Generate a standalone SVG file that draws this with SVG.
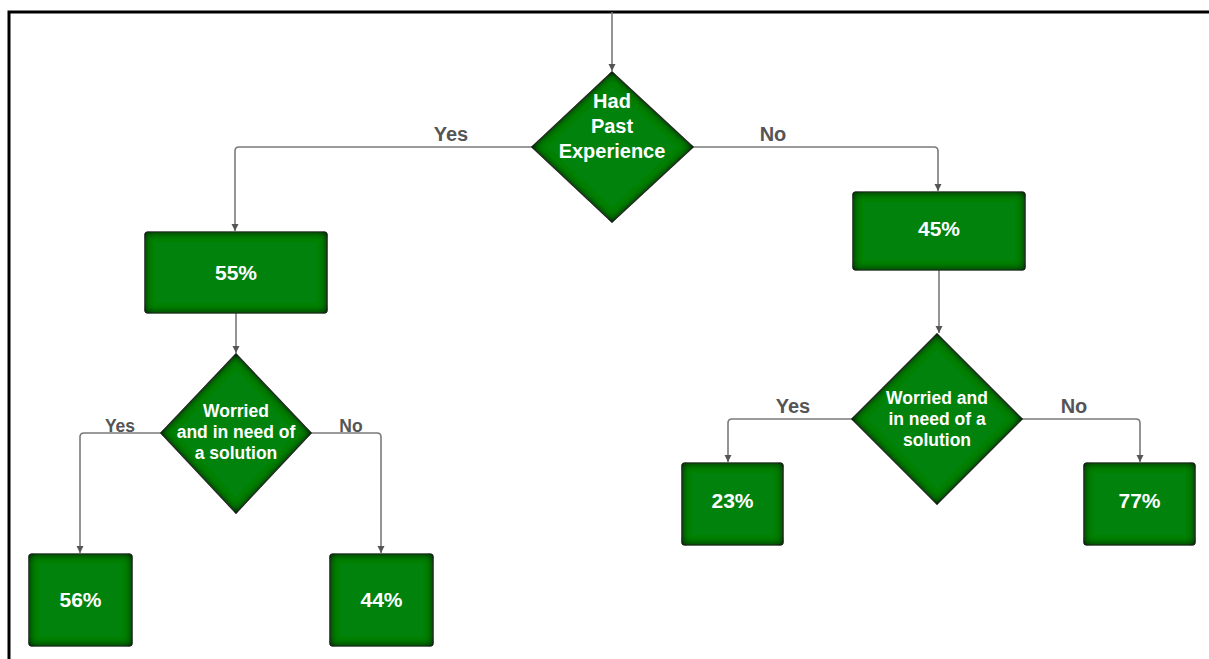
<svg xmlns="http://www.w3.org/2000/svg" width="1209" height="659" viewBox="0 0 1209 659">
<style>
.node{fill:#05820d;stroke:#4a4a4a;stroke-width:1.2;filter:url(#inner)}
.nt{fill:#ffffff;font-family:"Liberation Sans",Arial,sans-serif;font-weight:bold;text-anchor:middle}
.lbl{fill:#555555;font-family:"Liberation Sans",Arial,sans-serif;font-weight:bold;text-anchor:middle}
.edge{fill:none;stroke:#7a7a7a;stroke-width:1.6;marker-end:url(#arr)}
</style>
<defs>
<marker id="arr" markerUnits="userSpaceOnUse" markerWidth="8" markerHeight="8" refX="7" refY="3.5" orient="auto">
<path d="M0,0 L7,3.5 L0,7 z" fill="#555555"/>
</marker>
<filter id="inner" x="-50%" y="-50%" width="200%" height="200%">
<feFlood flood-color="#001a00" flood-opacity="1" result="f"/>
<feComposite in="f" in2="SourceAlpha" operator="out" result="o"/>
<feGaussianBlur in="o" stdDeviation="4" result="b"/>
<feComposite in="b" in2="SourceAlpha" operator="in" result="s"/>
<feMerge><feMergeNode in="SourceGraphic"/><feMergeNode in="s"/><feMergeNode in="s"/></feMerge>
</filter>
</defs>
<rect width="1209" height="659" fill="#ffffff"/>
<path d="M9,659 V12 H1209" fill="none" stroke="#000000" stroke-width="3"/>
<g id="connectors">
<path class="edge" d="M612,12 V71"/>
<path class="edge" d="M532,147 H239 Q235,147 235,151 V231"/>
<path class="edge" d="M693,147 H934 Q938,147 938,151 V191"/>
<path class="edge" d="M236,313 V353"/>
<path class="edge" d="M161,433 H84 Q80,433 80,437 V553"/>
<path class="edge" d="M311,433 H377 Q381,433 381,437 V553"/>
<path class="edge" d="M939,270 V333"/>
<path class="edge" d="M852,419 H732 Q728,419 728,423 V462"/>
<path class="edge" d="M1022,419 H1136 Q1140,419 1140,423 V462"/>
<text class="lbl" x="451" y="141" font-size="20">Yes</text>
<text class="lbl" x="773" y="141" font-size="20">No</text>
<text class="lbl" x="120" y="432" font-size="17.5">Yes</text>
<text class="lbl" x="351" y="432" font-size="17.5">No</text>
<text class="lbl" x="793" y="413" font-size="20">Yes</text>
<text class="lbl" x="1074" y="413" font-size="20">No</text>
</g>
<g id="d1">
<polygon class="node" points="612,72 693,147 612,222 532,147" stroke-linejoin="round"/>
<text class="nt" font-size="20" x="612" y="108">Had</text>
<text class="nt" font-size="20" x="612" y="133">Past</text>
<text class="nt" font-size="20" x="612" y="158">Experience</text>
</g>
<g id="n55">
<rect class="node" x="145" y="232" width="182" height="81" rx="3"/>
<text class="nt" font-size="21" x="236" y="280">55%</text>
</g>
<g id="n45">
<rect class="node" x="853" y="192" width="172" height="78" rx="3"/>
<text class="nt" font-size="21" x="939" y="236">45%</text>
</g>
<g id="d2">
<polygon class="node" points="236,354 311,433 236,513 161,433" stroke-linejoin="round"/>
<text class="nt" font-size="17.5" x="236" y="417">Worried</text>
<text class="nt" font-size="17.5" x="236" y="438">and in need of</text>
<text class="nt" font-size="17.5" x="236" y="459">a solution</text>
</g>
<g id="d3">
<polygon class="node" points="937,334 1022,419 937,504 852,419" stroke-linejoin="round"/>
<text class="nt" font-size="17.5" x="937" y="404">Worried and</text>
<text class="nt" font-size="17.5" x="937" y="425">in need of a</text>
<text class="nt" font-size="17.5" x="937" y="446">solution</text>
</g>
<g id="n56">
<rect class="node" x="29" y="554" width="103" height="92" rx="3"/>
<text class="nt" font-size="21" x="80.5" y="607">56%</text>
</g>
<g id="n44">
<rect class="node" x="330" y="554" width="103" height="92" rx="3"/>
<text class="nt" font-size="21" x="381.5" y="607">44%</text>
</g>
<g id="n23">
<rect class="node" x="682" y="463" width="101" height="82" rx="3"/>
<text class="nt" font-size="21" x="732.5" y="508">23%</text>
</g>
<g id="n77">
<rect class="node" x="1084" y="463" width="111" height="82" rx="3"/>
<text class="nt" font-size="21" x="1139.5" y="508">77%</text>
</g>
</svg>
